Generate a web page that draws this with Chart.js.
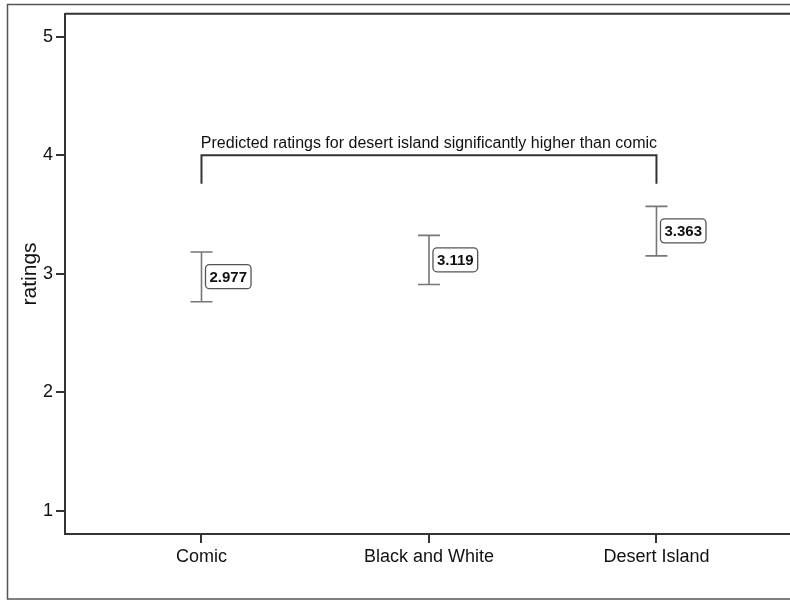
<!DOCTYPE html>
<html>
<head>
<meta charset="utf-8">
<script src="https://cdn.jsdelivr.net/npm/chart.js@4"></script>
<style>
  html, body { margin: 0; padding: 0; background: #fff; overflow: hidden; }
  #wrap { width: 790px; height: 601px; }
</style>
</head>
<body>
<div id="wrap"><canvas id="chart"></canvas></div>
<script>
const categories = ['Comic', 'Black and White', 'Desert Island'];
const means = [2.977, 3.119, 3.363];
const lower = [2.765, 2.91, 3.152];
const upper = [3.185, 3.325, 3.57];
const yTicks = [1, 2, 3, 4, 5];
const bracketFrom = 0, bracketTo = 2, bracketTop = 4.0, bracketEnd = 3.76;
const bracketText = 'Predicted ratings for desert island significantly higher than comic';

const axisColor = '#333';
const barColor = '#777';
const fontFamily = '"Liberation Sans", Arial, sans-serif';

const decorations = {
  id: 'decorations',
  beforeDraw(chart) {
    const ctx = chart.ctx;
    const area = chart.chartArea;
    ctx.save();
    // outer frame (cut off on the right)
    ctx.strokeStyle = '#555';
    ctx.lineWidth = 1.5;
    ctx.beginPath();
    ctx.moveTo(chart.width, 4.5);
    ctx.lineTo(7.5, 4.5);
    ctx.lineTo(7.5, 599);
    ctx.lineTo(chart.width, 599);
    ctx.stroke();
    // top edge of plot area
    ctx.strokeStyle = axisColor;
    ctx.lineWidth = 2;
    ctx.beginPath();
    ctx.moveTo(area.left, area.top);
    ctx.lineTo(area.right, area.top);
    ctx.stroke();
    ctx.restore();
  },
  afterDatasetsDraw(chart) {
    const ctx = chart.ctx;
    const xs = chart.scales.x, ys = chart.scales.y;
    ctx.save();
    // error bars
    ctx.strokeStyle = barColor;
    ctx.lineWidth = 1.6;
    categories.forEach((c, i) => {
      const x = xs.getPixelForValue(i);
      const yl = ys.getPixelForValue(lower[i]);
      const yu = ys.getPixelForValue(upper[i]);
      ctx.beginPath();
      ctx.moveTo(x, yl); ctx.lineTo(x, yu);
      ctx.moveTo(x - 11, yl); ctx.lineTo(x + 11, yl);
      ctx.moveTo(x - 11, yu); ctx.lineTo(x + 11, yu);
      ctx.stroke();
    });
    // value labels
    ctx.font = 'bold 15px ' + fontFamily;
    ctx.textBaseline = 'middle';
    ctx.textAlign = 'left';
    means.forEach((m, i) => {
      const x = xs.getPixelForValue(i) + 4;
      const y = ys.getPixelForValue(m);
      const t = m.toFixed(3);
      const w = ctx.measureText(t).width + 8;
      const h = 24;
      ctx.fillStyle = '#fff';
      ctx.strokeStyle = '#555';
      ctx.lineWidth = 1.3;
      ctx.beginPath();
      ctx.roundRect(x, y - h / 2, w, h, 4);
      ctx.fill();
      ctx.stroke();
      ctx.fillStyle = '#111';
      ctx.fillText(t, x + 4, y + 1);
    });
    // significance bracket
    const bx1 = xs.getPixelForValue(bracketFrom);
    const bx2 = xs.getPixelForValue(bracketTo);
    const by = ys.getPixelForValue(bracketTop);
    const be = ys.getPixelForValue(bracketEnd);
    ctx.strokeStyle = '#333';
    ctx.lineWidth = 2;
    ctx.beginPath();
    ctx.moveTo(bx1, be); ctx.lineTo(bx1, by); ctx.lineTo(bx2, by); ctx.lineTo(bx2, be);
    ctx.stroke();
    ctx.font = '16px ' + fontFamily;
    ctx.fillStyle = '#111';
    ctx.textAlign = 'center';
    ctx.textBaseline = 'bottom';
    ctx.fillText(bracketText, (bx1 + bx2) / 2, by - 4);
    ctx.restore();
  }
};

new Chart(document.getElementById('chart'), {
  type: 'scatter',
  data: {
    datasets: [{
      data: means.map((m, i) => ({ x: i, y: m })),
      pointRadius: 0,
      showLine: false
    }]
  },
  options: {
    responsive: true,
    maintainAspectRatio: false,
    animation: false,
    layout: { padding: { left: 18, top: 13, right: 0, bottom: 0 } },
    plugins: { legend: { display: false }, tooltip: { enabled: false } },
    scales: {
      x: {
        type: 'linear',
        min: -0.6,
        max: 2.587,
        afterBuildTicks: s => { s.ticks = categories.map((c, i) => ({ value: i })); },
        afterFit: s => { s.height = 67; },
        grid: { drawOnChartArea: false, drawTicks: true, tickLength: 9, color: axisColor, lineWidth: 2 },
        border: { display: true, color: axisColor, width: 2 },
        ticks: {
          callback: v => categories[v],
          color: '#111',
          padding: 3,
          maxRotation: 0,
          font: { family: fontFamily, size: 18 }
        }
      },
      y: {
        min: 0.806,
        max: 5.194,
        afterBuildTicks: s => { s.ticks = yTicks.map(v => ({ value: v })); },
        afterFit: s => { s.width = 47; },
        grid: { drawOnChartArea: false, drawTicks: true, tickLength: 9, color: axisColor, lineWidth: 2 },
        border: { display: true, color: axisColor, width: 2 },
        title: {
          display: true,
          text: 'ratings',
          color: '#111',
          padding: { top: 0, bottom: 0 },
          font: { family: fontFamily, size: 21 }
        },
        ticks: {
          color: '#111',
          padding: 3,
          font: { family: fontFamily, size: 18 }
        }
      }
    }
  },
  plugins: [decorations]
});
</script>
</body>
</html>
